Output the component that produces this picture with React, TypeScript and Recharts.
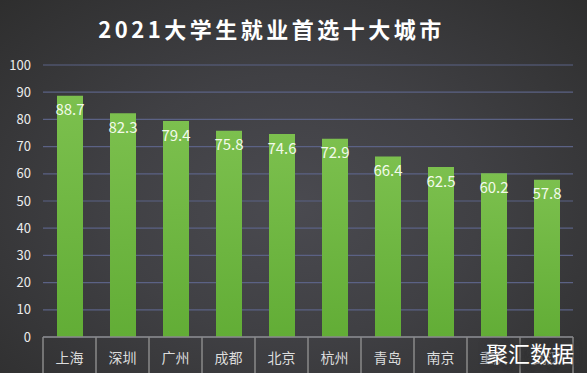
import React from 'react';
import { BarChart, Bar, XAxis, YAxis, CartesianGrid, LabelList } from 'recharts';

const cities = ['上海', '深圳', '广州', '成都', '北京', '杭州', '青岛', '南京', '重庆', '武汉'];
const scores = [88.7, 82.3, 79.4, 75.8, 74.6, 72.9, 66.4, 62.5, 60.2, 57.8];
const yTicks = [0, 10, 20, 30, 40, 50, 60, 70, 80, 90, 100];

const data = cities.map((c, i) => ({ city: c, value: scores[i] }));

const FONT = '"Noto Sans CJK SC", "Noto Sans", sans-serif';
const BAND = 53;

const CityTick = (props: any) => {
  const { x, payload, index } = props;
  const top = 337;
  return (
    <g>
      <line x1={x - BAND / 2} y1={top} x2={x - BAND / 2} y2={373} stroke="#8a8a8a" strokeWidth={1.5} />
      {index === cities.length - 1 && (
        <line x1={x + BAND / 2} y1={top} x2={x + BAND / 2} y2={373} stroke="#8a8a8a" strokeWidth={1.5} />
      )}
      <text x={x} y={357} textAnchor="middle" dominantBaseline="central" fill="#dcdcdc" fontSize={14} fontFamily={FONT}>
        {payload.value}
      </text>
    </g>
  );
};

export default function App() {
  return (
    <div
      style={{
        position: 'absolute',
        left: 0,
        top: 0,
        width: 587,
        height: 373,
        overflow: 'hidden',
        background: 'radial-gradient(ellipse at 50% 55%, #4a4a50 0%, #404044 45%, #2e2e2e 100%)',
        fontFamily: FONT,
      }}
    >
      <div
        style={{
          position: 'absolute',
          left: 0,
          width: 543,
          top: 13,
          textAlign: 'center',
          color: '#ffffff',
          fontSize: 22,
          fontWeight: 700,
          letterSpacing: 3.5,
          lineHeight: '30px',
        }}
      >
        2021大学生就业首选十大城市
      </div>
      <div style={{ position: 'absolute', left: 0, top: 0 }}>
        <BarChart width={587} height={373} data={data} margin={{ top: 65, right: 14, bottom: 0, left: 0 }} barCategoryGap="0%">
          <defs>
            <linearGradient id="barGrad" x1="0" y1="0" x2="0" y2="1">
              <stop offset="0%" stopColor="#7cc04e" />
              <stop offset="100%" stopColor="#62ad36" />
            </linearGradient>
          </defs>
          <CartesianGrid horizontal vertical={false} stroke="#5b6285" strokeWidth={1.2} />
          <XAxis
            dataKey="city"
            height={36}
            axisLine={{ stroke: '#8a8a8a', strokeWidth: 1.5 }}
            tickLine={false}
            tick={<CityTick />}
            interval={0}
          />
          <YAxis
            domain={[0, 100]}
            ticks={yTicks}
            width={43}
            axisLine={false}
            tickLine={false}
            tickSize={0}
            tickMargin={12}
            tick={{ fill: '#ececec', fontSize: 13, fontFamily: FONT }}
          />
          <Bar dataKey="value" fill="url(#barGrad)" barSize={26} isAnimationActive={false}>
            <LabelList dataKey="value" position="insideTop" offset={9} fill="#f2faea" fontSize={15} fontFamily={FONT} />
          </Bar>
        </BarChart>
      </div>
      <div
        style={{
          position: 'absolute',
          left: 486,
          top: 338,
          color: '#ffffff',
          fontSize: 22,
          lineHeight: '28px',
          textShadow: '0 0 3px #3a3a3a, 0 0 6px #3a3a3a, 0 0 8px #3a3a3a',
          whiteSpace: 'nowrap',
        }}
      >
        聚汇数据
      </div>
    </div>
  );
}
